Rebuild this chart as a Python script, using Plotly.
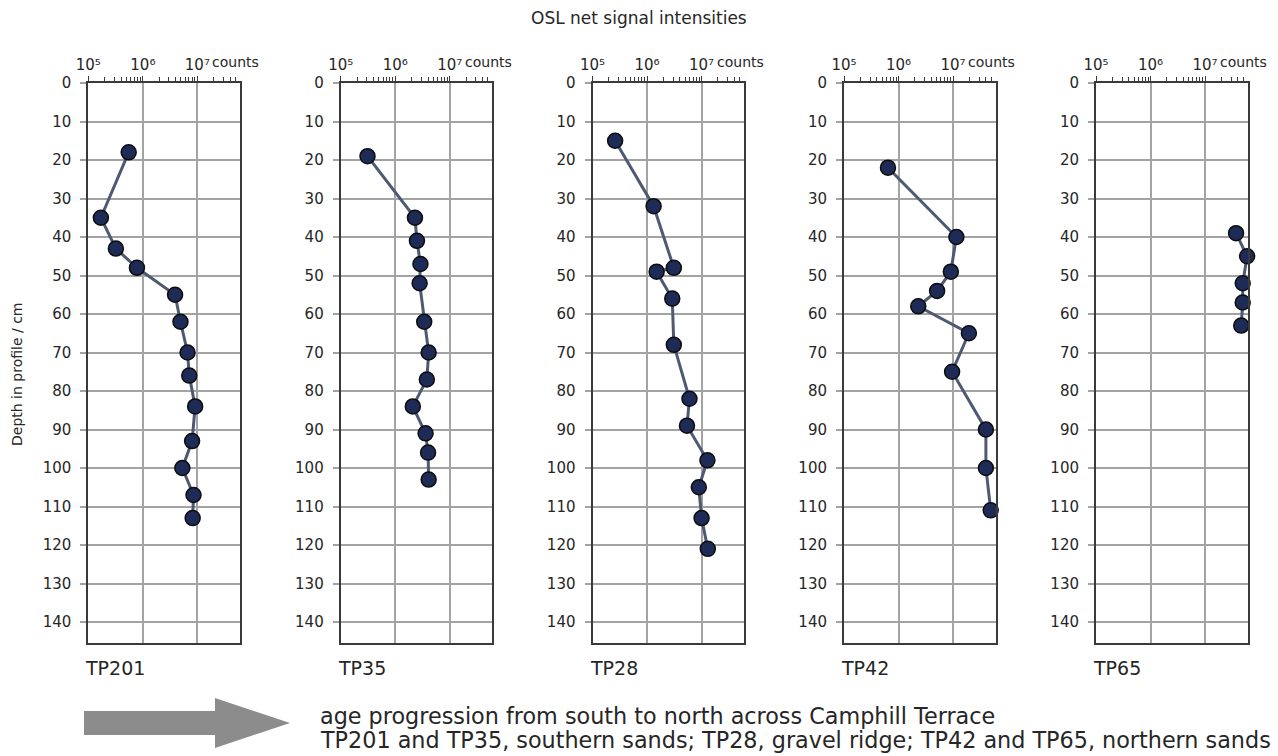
import plotly.graph_objects as go

# ---------------- data ----------------
profiles = ["TP201", "TP35", "TP28", "TP42", "TP65"]

tp201_depth = [18, 35, 43, 48, 55, 62, 70, 76, 84, 93, 100, 107, 113]
tp201_counts = [5.5e5, 1.7e5, 3.2e5, 7.8e5, 3.9e6, 4.9e6, 6.6e6, 7.1e6, 9.1e6, 8.0e6, 5.3e6, 8.5e6, 8.2e6]

tp35_depth = [19, 35, 41, 47, 52, 62, 70, 77, 84, 91, 96, 103]
tp35_counts = [3.1e5, 2.3e6, 2.5e6, 2.9e6, 2.8e6, 3.4e6, 4.1e6, 3.8e6, 2.1e6, 3.6e6, 4.0e6, 4.1e6]

tp28_depth = [15, 32, 48, 49, 56, 68, 82, 89, 98, 105, 113, 121]
tp28_counts = [2.6e5, 1.32e6, 3.1e6, 1.5e6, 2.9e6, 3.1e6, 6.0e6, 5.4e6, 1.28e7, 8.9e6, 1.0e7, 1.3e7]

tp42_depth = [22, 40, 49, 54, 58, 65, 75, 90, 100, 111]
tp42_counts = [6.4e5, 1.15e7, 9.1e6, 5.1e6, 2.3e6, 1.95e7, 9.6e6, 4.0e7, 4.0e7, 4.9e7]

tp65_depth = [39, 45, 52, 57, 63]
tp65_counts = [3.7e7, 5.9e7, 4.9e7, 4.9e7, 4.6e7]

depths = [tp201_depth, tp35_depth, tp28_depth, tp42_depth, tp65_depth]
counts = [tp201_counts, tp35_counts, tp28_counts, tp42_counts, tp65_counts]

major_ticks = [1e5, 1e6, 1e7]
major_text = ["10⁵", "10⁶", "10⁷"]
minor_ticks = [m * 1e5 for m in range(2, 10)] + [m * 1e6 for m in range(2, 10)] + [m * 1e7 for m in range(2, 6)]
depth_ticks = list(range(0, 150, 10))

title = "OSL net signal intensities"
ytitle = "Depth in profile / cm"
caption1 = "age progression from south to north across Camphill Terrace"
caption2 = "TP201 and TP35, southern sands; TP28, gravel ridge; TP42 and TP65, northern sands"

# ---------------- layout geometry ----------------
W, H = 1278, 756
FONT = "DejaVu Sans"
TXT = "#262626"
lefts_px = [88.3, 340.7, 592.5, 844.0, 1096.0]
width_px = 151.5
top_px, bottom_px = 83, 643
ydom = [1 - bottom_px / H, 1 - top_px / H]
xrange_log = [5, 7.778]
yrange = [145.45, 0]

GRID = "#a3a3a3"
BOX = "#3a3a3a"

fig = go.Figure()
layout = dict(
    width=W, height=H,
    margin=dict(l=0, r=0, t=0, b=0, autoexpand=False),
    paper_bgcolor="white", plot_bgcolor="white",
    showlegend=False,
    font=dict(family=FONT, size=15, color=TXT),
)
annotations = []
n = len(profiles)
for i in range(n):
    k = i + 1
    xa = f"x{k}" if k > 1 else "x"
    ya = f"y{k}" if k > 1 else "y"
    over = n + k  # overlay axis index
    dom = [lefts_px[i] / W, (lefts_px[i] + width_px) / W]
    layout[f"xaxis{k}"] = dict(
        type="log", range=xrange_log, domain=dom, anchor=ya, side="top",
        tickmode="array", tickvals=major_ticks, ticktext=major_text,
        ticks="outside", ticklen=5, tickwidth=1.3, tickcolor=BOX,
        showgrid=True, gridcolor=GRID, gridwidth=1.6,
        showline=True, linecolor=BOX, linewidth=2, mirror=True,
        tickfont=dict(family=FONT, size=15, color=TXT),
        minor=dict(tickmode="array", tickvals=minor_ticks, ticks="outside",
                   ticklen=4, tickwidth=1.2, tickcolor=BOX, showgrid=False),
        zeroline=False, fixedrange=True, automargin=False,
    )
    layout[f"xaxis{over}"] = dict(
        type="log", range=xrange_log, domain=dom, anchor=ya, side="top",
        overlaying=xa, tickmode="array", tickvals=major_ticks + minor_ticks,
        ticks="inside", ticklen=4, tickwidth=1.2, tickcolor=BOX,
        showticklabels=False, showgrid=False, showline=False, zeroline=False,
    )
    layout[f"yaxis{k}"] = dict(
        range=yrange, domain=ydom, anchor=xa,
        tickmode="array", tickvals=depth_ticks,
        ticks="outside", ticklen=6, tickwidth=1.6, tickcolor=GRID,
        ticklabelstandoff=6,
        showgrid=True, gridcolor=GRID, gridwidth=1.6,
        showline=True, linecolor=BOX, linewidth=2, mirror=True,
        tickfont=dict(family=FONT, size=15, color=TXT),
        zeroline=False, fixedrange=True, automargin=False,
    )
    fig.add_trace(go.Scatter(
        x=counts[i], y=depths[i], xaxis=xa, yaxis=ya,
        mode="lines+markers", cliponaxis=False,
        line=dict(color="#4d5a72", width=3),
        marker=dict(size=15, color="#1d2b56", line=dict(color="#0d0d0d", width=1.5)),
        hoverinfo="x+y",
    ))
    annotations.append(dict(
        text="counts", x=7, xref=xa, y=1 - 62 / H, yref="paper",
        xanchor="left", yanchor="middle", xshift=13, showarrow=False,
        font=dict(family=FONT, size=14, color=TXT),
    ))
    annotations.append(dict(
        text=profiles[i], x=lefts_px[i] / W, y=1 - 668 / H, xref="paper", yref="paper",
        xanchor="left", yanchor="middle", xshift=-5, showarrow=False,
        font=dict(family=FONT, size=19, color=TXT),
    ))

annotations.append(dict(
    text=title, x=0.5, y=1 - 18 / H, xref="paper", yref="paper",
    xanchor="center", yanchor="middle", showarrow=False,
    font=dict(family=FONT, size=17, color=TXT),
))
annotations.append(dict(
    text=ytitle, x=17 / W, y=1 - 375 / H, xref="paper", yref="paper",
    xanchor="center", yanchor="middle", textangle=-90, showarrow=False,
    font=dict(family=FONT, size=14, color=TXT),
))
annotations.append(dict(
    text=caption1, x=318 / W, y=1 - 716 / H, xref="paper", yref="paper",
    xanchor="left", yanchor="middle", showarrow=False,
    font=dict(family=FONT, size=22.3, color=TXT),
))
annotations.append(dict(
    text=caption2, x=318 / W, y=1 - 740 / H, xref="paper", yref="paper",
    xanchor="left", yanchor="middle", showarrow=False,
    font=dict(family=FONT, size=22.3, color=TXT),
))
layout["annotations"] = annotations

# decorative arrow (paper coordinates)
def px(x): return x / W
def py(y): return 1 - y / H
arrow_path = (
    f"M {px(84)} {py(711)} L {px(215)} {py(711)} L {px(215)} {py(698)} "
    f"L {px(290)} {py(723)} L {px(215)} {py(748)} L {px(215)} {py(735)} "
    f"L {px(84)} {py(735)} Z"
)
layout["shapes"] = [dict(type="path", path=arrow_path, xref="paper", yref="paper",
                         fillcolor="#8c8c8c", line=dict(width=0))]

fig.update_layout(**layout)
fig.write_html("out.html", config={"displayModeBar": False},
               post_script="document.body.style.margin='0px';")
